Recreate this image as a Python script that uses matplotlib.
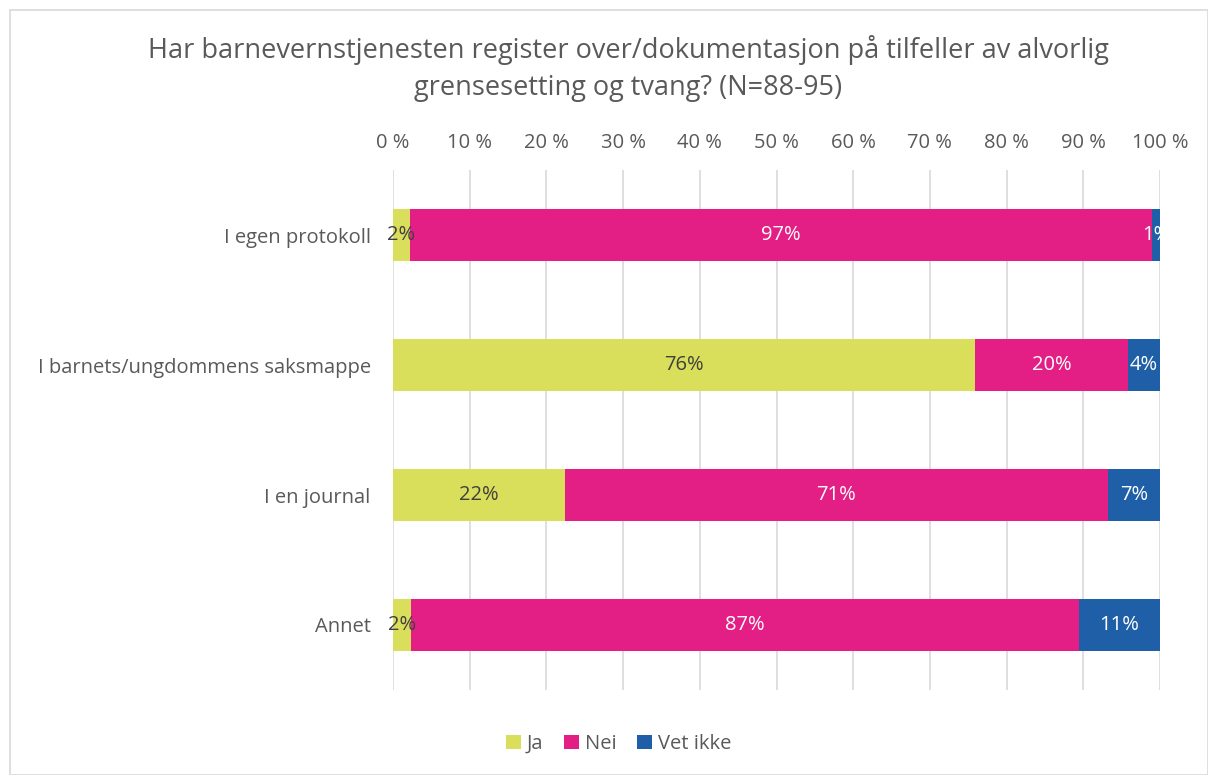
import numpy as np
import matplotlib.pyplot as plt
from matplotlib.patches import Rectangle

plt.rcParams['font.family'] = ['Open Sans', 'DejaVu Sans']

categories = ["I egen protokoll", "I barnets/ungdommens saksmappe", "I en journal", "Annet"]
series = ["Ja", "Nei", "Vet ikke"]
ja = [2.2, 75.9, 22.4, 2.3]
nei = [96.7, 19.9, 70.8, 87.1]
vet_ikke = [1.1, 4.2, 6.8, 10.6]
labels_ja = ["2%", "76%", "22%", "2%"]
labels_nei = ["97%", "20%", "71%", "87%"]
labels_vet = ["1%", "4%", "7%", "11%"]
xticks = [0, 10, 20, 30, 40, 50, 60, 70, 80, 90, 100]

colors = ["#D9DE5B", "#E31E84", "#1F5FA8"]
text_colors = ["#404040", "white", "white"]
grey = "#595959"
fs = 14.5

fig = plt.figure(figsize=(12.08, 7.75), dpi=100)
ax = fig.add_axes([0.3253, 0.1097, 0.6350, 0.6709])

y = np.arange(len(categories))
left = np.zeros(len(categories))
for vals, labs, c, tc, name in zip([ja, nei, vet_ikke],
                                   [labels_ja, labels_nei, labels_vet],
                                   colors, text_colors, series):
    ax.barh(y, vals, left=left, height=0.4, color=c, label=name, zorder=2)
    for i, (v, lab) in enumerate(zip(vals, labs)):
        ax.text(left[i] + v / 2, y[i], lab, ha="center", va="center",
                color=tc, fontsize=fs, zorder=3)
    left += np.array(vals)

ax.set_xlim(0, 100)
ax.set_ylim(len(categories) - 0.5, -0.5)
ax.set_yticks(y)
ax.set_yticklabels(categories, fontsize=fs, color=grey)
ax.set_xticks(xticks)
ax.set_xticklabels([f"{t} %" for t in xticks], fontsize=fs, color=grey)
ax.xaxis.tick_top()
ax.tick_params(axis="y", length=0, pad=16)
ax.tick_params(axis="x", length=0, pad=12)
ax.grid(axis="x", color="#D9D9D9", lw=1.2, zorder=0)
for s in ax.spines.values():
    s.set_visible(False)

fig.text(0.52, 0.935, "Har barnevernstjenesten register over/dokumentasjon på tilfeller av alvorlig",
         ha="center", va="center", fontsize=19.5, color=grey)
fig.text(0.52, 0.886, "grensesetting og tvang? (N=88-95)",
         ha="center", va="center", fontsize=19.5, color=grey)

leg = fig.legend(loc="center", bbox_to_anchor=(0.512, 0.04), ncol=3, frameon=False,
                 fontsize=fs, handlelength=0.75, handleheight=0.75,
                 handletextpad=0.3, columnspacing=1.0)
for t in leg.get_texts():
    t.set_color(grey)

fig.patches.append(Rectangle((0.008, 0.0), 0.992, 0.987, transform=fig.transFigure,
                             fill=False, edgecolor="#D9D9D9", lw=1.2))

fig.savefig("out.png", dpi=100)
